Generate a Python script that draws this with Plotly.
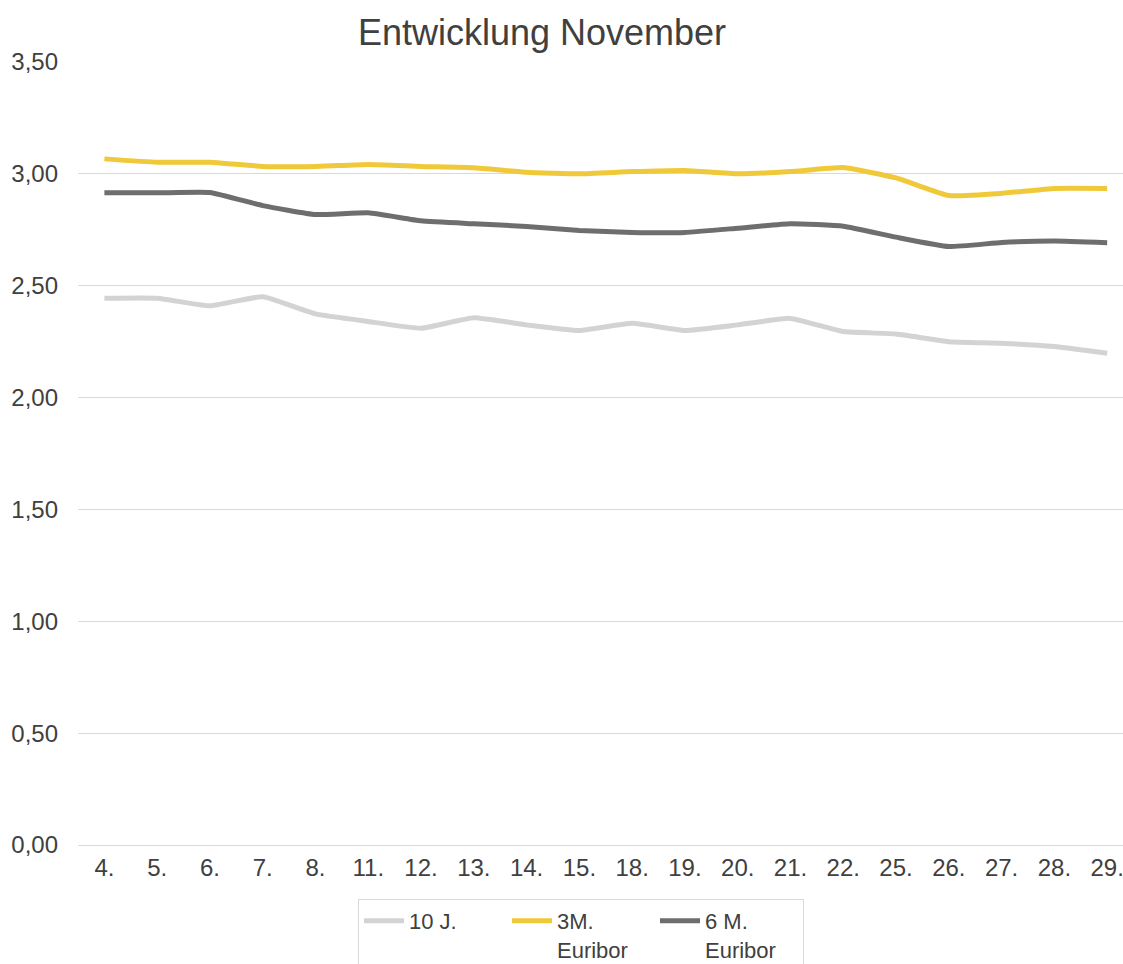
import plotly.graph_objects as go

days = ["4.", "5.", "6.", "7.", "8.", "11.", "12.", "13.", "14.", "15.",
        "18.", "19.", "20.", "21.", "22.", "25.", "26.", "27.", "28.", "29."]

j10 = [2.444, 2.444, 2.41, 2.451, 2.374, 2.34, 2.31, 2.357, 2.325, 2.30,
       2.332, 2.30, 2.325, 2.354, 2.295, 2.284, 2.25, 2.243, 2.228, 2.198]
m3_euribor = [3.067, 3.052, 3.052, 3.033, 3.033, 3.042, 3.033, 3.027, 3.007, 3.00,
              3.01, 3.015, 3.00, 3.01, 3.028, 2.982, 2.903, 2.913, 2.935, 2.935]
m6_euribor = [2.915, 2.915, 2.917, 2.858, 2.818, 2.826, 2.79, 2.777, 2.765, 2.747,
              2.738, 2.738, 2.757, 2.777, 2.766, 2.717, 2.675, 2.693, 2.70, 2.692]

series_names = ["10 J.", "3M.<br>Euribor", "6 M.<br>Euribor"]
series_colors = ["#d3d3d3", "#f0c93a", "#6e6e6e"]

FONT = "Liberation Sans, Arial, sans-serif"

fig = go.Figure()
for name, vals, col in zip(series_names, [j10, m3_euribor, m6_euribor], series_colors):
    fig.add_trace(go.Scatter(
        x=days, y=vals, name=name, mode="lines",
        line=dict(color=col, width=5, shape="spline", smoothing=0.4),
    ))

fig.update_layout(
    width=1123, height=964,
    paper_bgcolor="white", plot_bgcolor="white",
    margin=dict(l=78, r=0, t=62, b=119, autoexpand=False),
    separators=",.",
    font=dict(family=FONT, color="#404040"),
    title=dict(text="Entwicklung November", x=542 / 1123, xanchor="center",
               y=1 - 32 / 964, yanchor="middle",
               font=dict(size=36, color="#404040", family=FONT)),
    showlegend=True,
    legend=dict(orientation="h", xref="container", x=358 / 1123,
                xanchor="left", yref="container", y=1 - 899 / 964, yanchor="top",
                bordercolor="#d9d9d9", borderwidth=1,
                font=dict(size=22, color="#404040", family=FONT),
                valign="top", itemwidth=40, entrywidth=93, entrywidthmode="pixels",
                tracegroupgap=0),
)

fig.update_xaxes(type="category", range=[-0.5, 19.3], showgrid=False,
                 showline=False, zeroline=False, ticks="",
                 tickfont=dict(size=24, color="#404040", family=FONT),
                 ticklabelstandoff=6)
fig.update_yaxes(range=[0, 3.5], dtick=0.5, tickformat=".2f",
                 showgrid=True, gridcolor="#d9d9d9", gridwidth=1,
                 zeroline=True, zerolinecolor="#d9d9d9", zerolinewidth=1,
                 showline=False, ticks="",
                 tickfont=dict(size=24, color="#404040", family=FONT),
                 ticklabelstandoff=19)

fig.write_html("out.html")
